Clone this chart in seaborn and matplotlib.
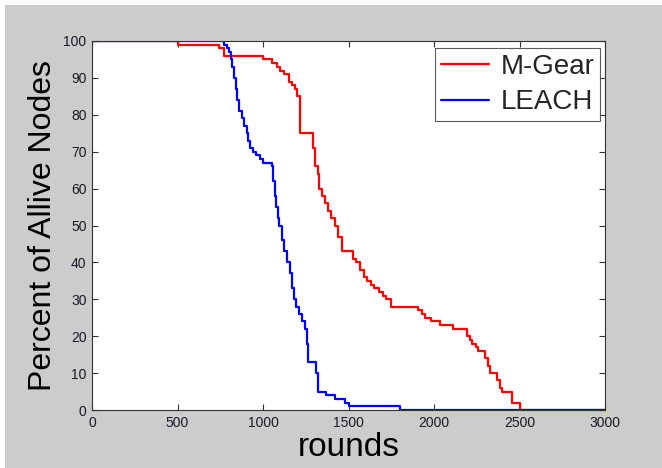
import matplotlib
matplotlib.use("Agg")
import matplotlib.pyplot as plt
from matplotlib.patches import Rectangle
import seaborn as sns
import pandas as pd

mgear_rounds = [0, 500, 740, 770, 1000, 1050, 1080, 1100, 1120, 1150, 1170, 1190, 1200,
                1215, 1295, 1305, 1320, 1330, 1345, 1360, 1380, 1400, 1420, 1440, 1460,
                1525, 1545, 1570, 1590, 1610, 1630, 1650, 1680, 1700, 1720, 1750, 1905,
                1930, 1950, 1985, 2035, 2110, 2195, 2210, 2225, 2245, 2260, 2300, 2315,
                2330, 2370, 2385, 2400, 2455, 2500, 3000]
mgear_alive = [100, 99, 98, 96, 95, 94, 93, 92, 91, 89, 88, 87, 85,
               75, 71, 66, 64, 60, 58, 56, 54, 52, 50, 47, 43,
               41, 40, 38, 36, 35, 34, 33, 32, 31, 30, 28, 27,
               26, 25, 24, 23, 22, 20, 19, 18, 17, 16, 14, 12,
               10, 8, 6, 5, 2, 0, 0]

leach_rounds = [0, 770, 790, 800, 810, 820, 830, 840, 850, 860, 875, 890, 905, 915, 925,
                940, 960, 980, 1000, 1050, 1060, 1070, 1075, 1085, 1095, 1110, 1125, 1140,
                1155, 1170, 1180, 1195, 1210, 1230, 1245, 1260, 1265, 1310, 1320, 1370,
                1420, 1480, 1500, 1800, 3000]
leach_alive = [100, 99, 98, 97, 95, 93, 90, 87, 84, 81, 79, 77, 75, 73, 71,
               70, 69, 68, 67, 66, 62, 58, 55, 52, 50, 46, 43, 40,
               37, 33, 30, 28, 26, 24, 22, 18, 13, 10, 5, 4,
               3, 2, 1, 0, 0]

series_names = ["M-Gear", "LEACH"]
colors = ["#ff0000", "#0000ff"]

df = pd.concat([
    pd.DataFrame({"rounds": mgear_rounds, "alive": mgear_alive, "protocol": series_names[0]}),
    pd.DataFrame({"rounds": leach_rounds, "alive": leach_alive, "protocol": series_names[1]}),
])

sns.set_style("ticks")
plt.rcParams["font.family"] = ["Liberation Sans", "DejaVu Sans"]

fig = plt.figure(figsize=(6.62, 4.68), dpi=100, facecolor="white")
fig.patches.append(Rectangle((5 / 662, 0), 1, 1 - 5 / 468, transform=fig.transFigure,
                             facecolor="#cccccc", edgecolor="none", zorder=-10))
ax = fig.add_axes([92 / 662, 58 / 468, 513 / 662, 369 / 468])
ax.set_facecolor("white")

sns.lineplot(data=df, x="rounds", y="alive", hue="protocol", palette=colors,
             hue_order=series_names, drawstyle="steps-post", linewidth=1.6,
             ax=ax, sort=False, estimator=None)

ax.set_xlim(0, 3000)
ax.set_ylim(0, 100)
ax.set_xticks(range(0, 3001, 500))
ax.set_yticks(range(0, 101, 10))
ax.tick_params(direction="in", length=4, width=0.8, top=True, right=True,
               labelsize=10, labelcolor="#1a1a2a", color="#333333", pad=4)
for s in ax.spines.values():
    s.set_color("#333333")
    s.set_linewidth(0.8)
    s.set_visible(True)

ax.set_xlabel("rounds", fontsize=24, labelpad=2, color="black")
ax.set_ylabel("Percent of Allive Nodes", fontsize=23, labelpad=4, color="black")

leg = ax.legend(loc="upper right", fontsize=20, frameon=True, fancybox=False,
                edgecolor="#333333", handlelength=1.75, borderpad=0.2,
                labelspacing=0.35, handletextpad=0.4, borderaxespad=0.0,
                bbox_to_anchor=(0.990, 0.981))
leg.get_frame().set_linewidth(0.8)
leg.set_title(None)

fig.savefig("out.png", dpi=100, facecolor=fig.get_facecolor())
